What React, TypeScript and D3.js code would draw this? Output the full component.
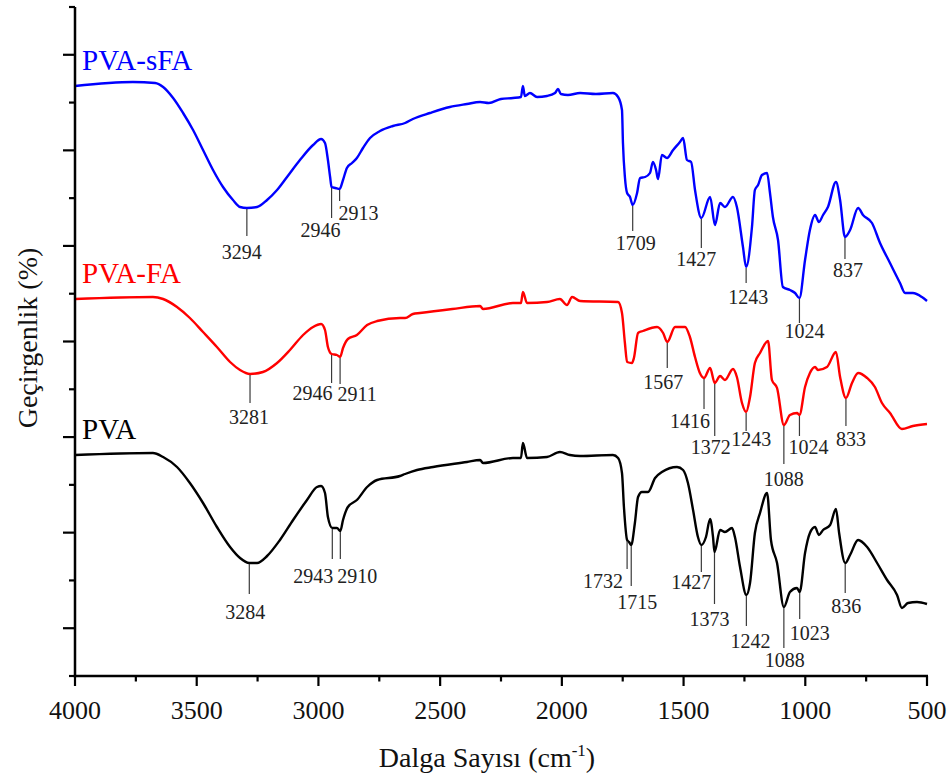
import React from "react";
import * as d3 from "d3";

// ---------- DATA ----------
// wavenumber (cm-1), transmittance (arbitrary offset units)
const pvaSfa: [number, number][] = [
  [4000, 118.0], [3762, 118.8], [3671, 118.6], [3638, 117.8], [3597, 115.6], [3556, 112.6],
  [3515, 109.2], [3474, 105.2], [3433, 101.2], [3392, 97.8], [3351, 95.2], [3322, 93.8],
  [3294, 93.6], [3252, 93.8], [3211, 95.2], [3170, 97.2], [3129, 99.8], [3076, 103.2],
  [3022, 106.2], [2989, 107.4], [2973, 106.6], [2961, 103.2], [2952, 99.8], [2946, 97.8],
  [2930, 97.6], [2913, 97.4], [2899, 99.2], [2883, 101.6], [2862, 102.6], [2842, 103.6],
  [2817, 105.6], [2788, 107.6], [2747, 109.0], [2694, 110.0], [2644, 110.6], [2612, 111.4],
  [2542, 112.6], [2460, 113.8], [2390, 114.4], [2336, 114.8], [2300, 114.6], [2250, 115.4],
  [2201, 115.6], [2168, 115.8], [2160, 118.0], [2152, 116.0], [2131, 116.6], [2102, 115.8],
  [2061, 116.0], [2028, 116.6], [2016, 117.4], [2004, 116.4], [1975, 116.2], [1925, 116.6],
  [1860, 116.4], [1790, 116.6], [1769, 115.8], [1753, 113.2], [1749, 106.6], [1741, 99.8],
  [1732, 96.6], [1720, 95.8], [1709, 94.2], [1691, 96.6], [1679, 99.6], [1658, 99.8],
  [1638, 100.6], [1626, 102.8], [1613, 101.2], [1605, 99.4], [1589, 104.2], [1568, 103.6],
  [1543, 105.2], [1515, 106.8], [1502, 107.6], [1486, 103.2], [1469, 102.8], [1453, 97.2],
  [1427, 91.6], [1391, 95.8], [1371, 90.2], [1350, 94.6], [1330, 93.8], [1297, 95.8],
  [1281, 93.8], [1256, 85.8], [1243, 81.8], [1219, 89.8], [1207, 97.2], [1194, 98.2],
  [1178, 100.2], [1157, 100.6], [1145, 96.6], [1133, 91.8], [1112, 87.2], [1092, 77.8],
  [1063, 77.2], [1042, 76.6], [1024, 75.6], [1001, 83.2], [981, 89.2], [960, 92.2],
  [944, 90.8], [927, 92.2], [907, 93.8], [874, 98.8], [857, 95.2], [837, 87.8],
  [816, 89.2], [783, 93.6], [763, 92.2], [726, 90.6], [693, 86.6], [652, 82.6],
  [611, 78.6], [590, 76.6], [558, 76.6], [521, 75.8], [500, 75.0],
];

const pvaFa: [number, number][] = [
  [4000, 75.4], [3680, 75.8], [3638, 75.4], [3581, 73.8], [3528, 71.6], [3474, 68.8],
  [3417, 65.8], [3363, 62.8], [3322, 61.2], [3281, 60.4], [3228, 60.8], [3170, 62.6],
  [3117, 65.2], [3063, 68.2], [3022, 69.8], [2989, 70.4], [2973, 69.2], [2961, 65.8],
  [2946, 64.4], [2924, 64.2], [2911, 63.8], [2899, 65.6], [2879, 67.4], [2842, 68.2],
  [2800, 70.2], [2759, 71.0], [2665, 71.6], [2644, 71.6], [2612, 72.4], [2583, 72.6],
  [2450, 73.4], [2336, 74.0], [2324, 73.4], [2201, 74.6], [2168, 74.6], [2160, 76.8],
  [2143, 74.6], [2061, 74.8], [2008, 75.4], [1979, 74.2], [1958, 75.8], [1925, 75.0],
  [1769, 74.8], [1753, 72.6], [1741, 66.6], [1732, 62.8], [1712, 62.6], [1704, 63.6],
  [1687, 68.6], [1667, 69.0], [1609, 69.8], [1584, 68.6], [1567, 66.8], [1535, 69.8],
  [1494, 69.8], [1474, 67.8], [1453, 63.8], [1433, 60.6], [1416, 59.6], [1391, 61.6],
  [1372, 58.6], [1350, 60.0], [1330, 59.2], [1297, 61.4], [1281, 59.8], [1260, 54.6],
  [1243, 52.8], [1227, 55.8], [1207, 62.6], [1186, 64.6], [1153, 67.0], [1137, 59.2],
  [1116, 57.6], [1088, 50.2], [1063, 52.2], [1034, 52.6], [1024, 52.2], [1001, 57.8],
  [981, 60.6], [960, 61.8], [948, 61.2], [911, 61.8], [874, 64.8], [857, 59.8],
  [833, 55.6], [808, 58.6], [783, 60.6], [746, 59.6], [714, 57.8], [685, 54.6],
  [652, 52.6], [603, 49.4], [558, 50.0], [500, 50.4],
];

const pva: [number, number][] = [
  [4000, 44.2], [3680, 44.6], [3638, 43.8], [3581, 41.8], [3528, 38.6], [3474, 34.6],
  [3417, 29.8], [3363, 25.8], [3322, 23.6], [3284, 22.6], [3252, 22.6], [3211, 24.0],
  [3158, 27.2], [3104, 31.2], [3047, 35.2], [3006, 37.8], [2989, 38.0], [2973, 36.6],
  [2961, 31.8], [2943, 29.6], [2924, 29.6], [2910, 29.0], [2899, 31.2], [2879, 33.8],
  [2842, 35.2], [2800, 37.8], [2759, 39.2], [2665, 40.0], [2644, 40.4], [2595, 41.2],
  [2529, 41.8], [2390, 42.8], [2336, 43.2], [2324, 42.6], [2201, 43.6], [2168, 43.6],
  [2160, 46.6], [2143, 43.6], [2061, 43.8], [2008, 44.8], [1967, 44.2], [1925, 44.0],
  [1790, 44.2], [1769, 43.6], [1753, 40.6], [1745, 33.8], [1732, 27.2], [1724, 26.8],
  [1715, 26.2], [1700, 30.6], [1687, 35.8], [1671, 36.8], [1646, 36.8], [1617, 39.6],
  [1589, 40.8], [1527, 41.8], [1502, 41.2], [1482, 38.6], [1461, 33.2], [1441, 27.8],
  [1427, 26.2], [1408, 27.8], [1391, 31.4], [1379, 27.8], [1373, 24.8], [1350, 29.2],
  [1330, 28.8], [1301, 29.6], [1289, 27.8], [1268, 21.8], [1242, 16.2], [1227, 18.6],
  [1207, 28.6], [1186, 32.6], [1157, 36.6], [1141, 27.2], [1116, 22.6], [1088, 13.8],
  [1063, 16.8], [1034, 17.6], [1023, 16.8], [1001, 24.6], [981, 28.6], [960, 29.8],
  [944, 28.2], [927, 29.2], [898, 30.2], [874, 33.4], [861, 28.6], [836, 22.6],
  [816, 24.2], [783, 27.2], [746, 25.8], [705, 22.6], [664, 19.2], [623, 16.2],
  [603, 13.6], [578, 14.6], [541, 14.8], [500, 14.4],
];

const seriesNames = ["PVA-sFA", "PVA-FA", "PVA"];

// peak labels (wavenumber)
const sfaPeaks = [3294, 2946, 2913, 1709, 1427, 1243, 1024, 837];
const faPeaks = [3281, 2946, 2911, 1567, 1416, 1372, 1243, 1088, 1024, 833];
const pvaPeaks = [3284, 2943, 2910, 1732, 1715, 1427, 1373, 1242, 1088, 1023, 836];

// label layout: [leader length px, text dx px, text baseline below leader px]
const sfaLayout = [[27, -5, 23], [30, -11, 19], [11, 19, 19], [25, 3, 19], [29, -5, 18], [15, 2, 21], [24, 5, 15], [21, 3, 18]];
const faLayout = [[28, -1, 21], [28, -19, 17], [26, 17, 17], [25, -4, 21], [30, -14, 19], [52, -4, 18], [18, 5, 15], [38, 0, 22], [20, 9, 18], [27, 5, 20]];
const pvaLayout = [[30, -4, 25], [30, -19, 24], [27, 17, 24], [28, -24, 19], [40, 6, 23], [26, -10, 17], [51, -5, 22], [30, 4, 22], [40, 1, 19], [26, 10, 21], [29, 1, 20]];

const xMajor = [4000, 3500, 3000, 2500, 2000, 1500, 1000, 500];
const xMinor = [3750, 3250, 2750, 2250, 1750, 1250, 750];

const Y_MAX = 133.8;
const Y_STEPS = 14;

// ---------- CHART ----------
const W = 952;
const H = 780;
const FONT = "'Liberation Serif', 'Times New Roman', serif";

const x = d3.scaleLinear().domain([4000, 500]).range([75, 927]);
const y = d3.scaleLinear().domain([0, Y_MAX]).range([676, 7]);

const line = d3
  .line<[number, number]>()
  .x((d) => x(d[0]))
  .y((d) => y(d[1]))
  .curve(d3.curveMonotoneX);

function valueAt(data: [number, number][], wn: number): number {
  for (let i = 0; i < data.length - 1; i++) {
    const a = data[i];
    const b = data[i + 1];
    if (wn <= a[0] && wn >= b[0]) {
      const t = a[0] === b[0] ? 0 : (a[0] - wn) / (a[0] - b[0]);
      return a[1] + t * (b[1] - a[1]);
    }
  }
  return data[data.length - 1][1];
}

function Peaks({ data, peaks, layout }: { data: [number, number][]; peaks: number[]; layout: number[][] }) {
  return (
    <g>
      {peaks.map((wn, i) => {
        const [len, dx, dy] = layout[i];
        const px = x(wn);
        const top = y(valueAt(data, wn)) + 1;
        const bottom = top + len;
        return (
          <g key={wn + "-" + i}>
            <line x1={px} x2={px} y1={top} y2={bottom} stroke="#3a3a3a" strokeWidth={1.2} />
            <text x={px + dx} y={bottom + dy} textAnchor="middle" fontSize={20} fill="#222" fontFamily={FONT}>
              {String(wn)}
            </text>
          </g>
        );
      })}
    </g>
  );
}

export default function App() {
  const yTicks = d3.range(0, Y_STEPS + 1).map((i) => (i * Y_MAX) / Y_STEPS);
  const series: { data: [number, number][]; color: string; peaks: number[]; layout: number[][]; labelVal: number }[] = [
    { data: pvaSfa, color: "#0000ff", peaks: sfaPeaks, layout: sfaLayout, labelVal: pvaSfa[0][1] },
    { data: pvaFa, color: "#ff0000", peaks: faPeaks, layout: faLayout, labelVal: pvaFa[0][1] },
    { data: pva, color: "#000000", peaks: pvaPeaks, layout: pvaLayout, labelVal: pva[0][1] },
  ];
  return (
    <svg
      width={W}
      height={H}
      style={{ position: "absolute", left: 0, top: 0, background: "#fff" }}
      fontFamily={FONT}
    >
      <rect x={0} y={0} width={W} height={H} fill="#fff" />
      {/* curves */}
      {series.map((s, i) => (
        <path key={i} d={line(s.data) || ""} fill="none" stroke={s.color} strokeWidth={2.4} strokeLinejoin="round" />
      ))}
      {/* peak annotations */}
      {series.map((s, i) => (
        <Peaks key={i} data={s.data} peaks={s.peaks} layout={s.layout} />
      ))}
      {/* series labels */}
      {series.map((s, i) => (
        <text key={i} x={82} y={y(s.labelVal) - 16} fontSize={29} fill={s.color} fontFamily={FONT}>
          {seriesNames[i]}
        </text>
      ))}
      {/* axes */}
      <line x1={75} x2={75} y1={y(Y_MAX)} y2={y(0) + 1.2} stroke="#000" strokeWidth={2.5} />
      <line x1={73.8} x2={x(500) + 1} y1={y(0)} y2={y(0)} stroke="#000" strokeWidth={2.5} />
      {yTicks.map((t, i) => (
        <line key={i} x1={75} x2={i % 2 === 1 ? 63 : 69} y1={y(t)} y2={y(t)} stroke="#000" strokeWidth={2.2} />
      ))}
      {xMajor.map((t) => (
        <g key={t}>
          <line x1={x(t)} x2={x(t)} y1={y(0)} y2={y(0) + 10} stroke="#000" strokeWidth={2.2} />
          <text x={x(t)} y={719} textAnchor="middle" fontSize={26} fill="#111" fontFamily={FONT}>
            {t}
          </text>
        </g>
      ))}
      {xMinor.map((t) => (
        <line key={t} x1={x(t)} x2={x(t)} y1={y(0)} y2={y(0) + 5.5} stroke="#000" strokeWidth={2.2} />
      ))}
      {/* axis titles */}
      <text x={487} y={767} textAnchor="middle" fontSize={28} fill="#111" fontFamily={FONT}>
        Dalga Sayısı (cm
        <tspan fontSize={17} dy={-11}>-1</tspan>
        <tspan dy={11}>)</tspan>
      </text>
      <text
        transform="translate(37,338) rotate(-90)"
        textAnchor="middle"
        fontSize={28}
        fill="#111"
        fontFamily={FONT}
      >
        Geçirgenlik (%)
      </text>
    </svg>
  );
}
